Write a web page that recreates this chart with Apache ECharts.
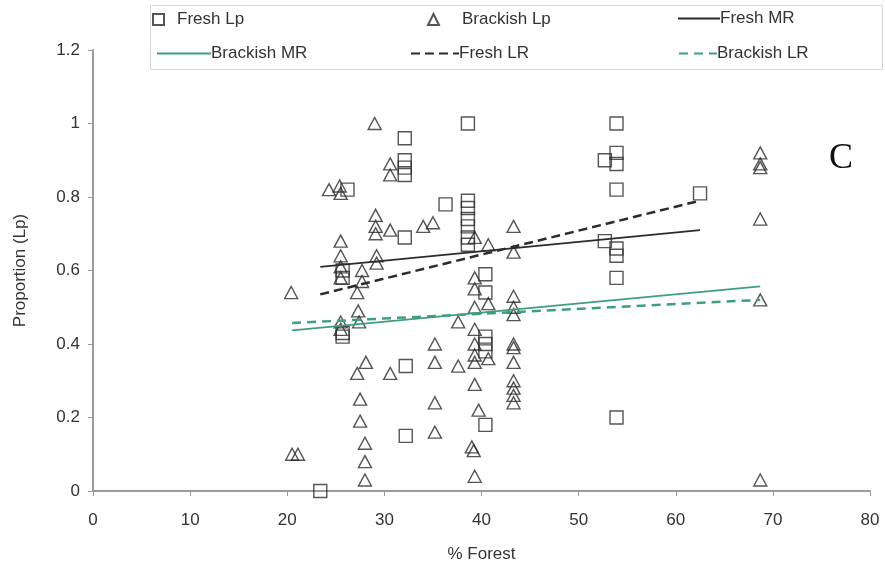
<!DOCTYPE html>
<html>
<head>
<meta charset="utf-8">
<script src="https://cdn.jsdelivr.net/npm/echarts@6/dist/echarts.min.js"></script>
<style>
  html, body { margin: 0; padding: 0; background: #fff; }
  #chart { width: 885px; height: 575px; }
</style>
</head>
<body>
<div id="chart"></div>
<script>
// Proportion (Lp) against % forest cover, freshwater vs brackish sites
const freshLp = [
  [23.4, 0.00], [26.2, 0.82], [25.7, 0.60], [25.7, 0.58], [25.7, 0.43], [25.7, 0.42],
  [32.1, 0.96], [32.1, 0.90], [32.1, 0.88], [32.1, 0.86], [32.1, 0.69], [32.2, 0.34],
  [32.2, 0.15], [36.3, 0.78], [38.6, 1.00], [38.6, 0.79], [38.6, 0.77], [38.6, 0.74],
  [38.6, 0.72], [38.6, 0.69], [38.6, 0.67], [40.4, 0.59], [40.4, 0.54], [40.4, 0.42],
  [40.4, 0.40], [40.4, 0.38], [40.4, 0.18], [52.7, 0.90], [53.9, 0.92], [53.9, 0.89],
  [53.9, 1.00], [53.9, 0.82], [52.7, 0.68], [53.9, 0.66], [53.9, 0.64], [53.9, 0.58],
  [53.9, 0.20], [62.5, 0.81]
];
const brackishLp = [
  [20.4, 0.54], [20.5, 0.10], [21.1, 0.10], [24.3, 0.82], [25.4, 0.83], [25.5, 0.81],
  [25.5, 0.68], [25.5, 0.64], [25.5, 0.61], [25.5, 0.58], [25.5, 0.46], [25.5, 0.44],
  [27.2, 0.54], [27.7, 0.60], [27.7, 0.57], [27.3, 0.49], [27.4, 0.46], [28.1, 0.35],
  [27.2, 0.32], [27.5, 0.25], [27.5, 0.19], [28.0, 0.13], [28.0, 0.08], [28.0, 0.03],
  [29.0, 1.00], [29.1, 0.75], [29.1, 0.72], [29.1, 0.70], [29.2, 0.64], [29.2, 0.62],
  [30.6, 0.89], [30.6, 0.86], [30.6, 0.71], [30.6, 0.32], [34.0, 0.72], [35.0, 0.73],
  [35.2, 0.40], [35.2, 0.35], [35.2, 0.24], [35.2, 0.16], [37.6, 0.46], [37.6, 0.34],
  [39.3, 0.69], [40.7, 0.67], [39.3, 0.58], [39.3, 0.55], [39.3, 0.50], [40.7, 0.51],
  [39.3, 0.44], [39.3, 0.40], [39.3, 0.37], [40.7, 0.36], [39.3, 0.35], [39.3, 0.29],
  [39.7, 0.22], [39.0, 0.12], [39.2, 0.11], [39.3, 0.04],
  [43.3, 0.72], [43.3, 0.65], [43.3, 0.53], [43.3, 0.50], [43.3, 0.48], [43.3, 0.40],
  [43.3, 0.39], [43.3, 0.35], [43.3, 0.30], [43.3, 0.28], [43.3, 0.26], [43.3, 0.24],
  [68.7, 0.92], [68.7, 0.89], [68.7, 0.88], [68.7, 0.74], [68.7, 0.52], [68.7, 0.03]
];
// Fitted lines: endpoints over each group's range of % forest
const freshMR = [[23.4, 0.61], [62.5, 0.71]];
const brackishMR = [[20.5, 0.437], [68.7, 0.557]];
const freshLR = [[23.4, 0.535], [62.5, 0.79]];
const brackishLR = [[20.5, 0.457], [68.7, 0.52]];

const xTicks = [0, 10, 20, 30, 40, 50, 60, 70, 80];
const yTicks = [0, 0.2, 0.4, 0.6, 0.8, 1, 1.2];

const GREEN = '#3f9e7f';
const INK = '#2b2b2b';
const AXIS = '#9a9a9a';
const TXT = '#333';
const FONT = '"Liberation Sans", Arial, sans-serif';

const chart = echarts.init(document.getElementById('chart'), null, { renderer: 'canvas' });

// One legend block per entry so each sits in its own column of the key box
function legendAt(name, left, top, w, h, gap, hideSymbol) {
  const lg = {
    data: [name], left: left, top: top, orient: 'horizontal',
    padding: 0, itemWidth: w, itemHeight: h, selectedMode: false,
    textStyle: { fontFamily: FONT, fontSize: 17, color: TXT, padding: [0, 0, 0, gap || 0] }
  };
  if (hideSymbol) lg.itemStyle = { opacity: 0 };
  return lg;
}

const option = {
  animation: false,
  backgroundColor: '#fff',
  grid: { left: 93, right: 15, top: 50, bottom: 84, containLabel: false },
  legend: [
    legendAt('Fresh Lp', 152, 11, 11, 11, 8),
    legendAt('Brackish Lp', 427, 11, 11, 11, 18),
    legendAt('Fresh MR', 677, 10, 42, 14, -5, true),
    legendAt('Brackish MR', 156, 45, 54, 14, -5, true),
    legendAt('Fresh LR', 410, 45, 48, 14, -5, true),
    legendAt('Brackish LR', 678, 45, 38, 14, -5, true)
  ],
  xAxis: {
    type: 'value', min: xTicks[0], max: xTicks[xTicks.length - 1], interval: 10,
    name: '% Forest', nameLocation: 'middle', nameGap: 55,
    nameTextStyle: { fontFamily: FONT, fontSize: 17, color: TXT },
    axisLine: { lineStyle: { color: AXIS, width: 2 } },
    axisTick: { show: true, length: 5, lineStyle: { color: AXIS, width: 1 } },
    axisLabel: { fontFamily: FONT, fontSize: 17, color: TXT, margin: 21 },
    splitLine: { show: false }
  },
  yAxis: {
    type: 'value', min: yTicks[0], max: yTicks[yTicks.length - 1], interval: 0.2,
    name: 'Proportion (Lp)', nameLocation: 'middle', nameGap: 64,
    nameTextStyle: { fontFamily: FONT, fontSize: 17, color: TXT },
    axisLine: { show: true, lineStyle: { color: AXIS, width: 2 } },
    axisTick: { show: true, length: 5, lineStyle: { color: AXIS, width: 1 } },
    axisLabel: { fontFamily: FONT, fontSize: 17, color: TXT, margin: 13 },
    splitLine: { show: false }
  },
  graphic: [
    {
      type: 'rect', left: 148, top: 3, z: -1,
      shape: { width: 732, height: 64 },
      style: { fill: 'none', stroke: '#d6d6d6', lineWidth: 1 }
    },
    {
      type: 'text', left: 829, top: 141,
      style: { text: 'C', font: '36px "Liberation Serif", "Times New Roman", serif', fill: '#111' }
    }
  ],
  series: [
    {
      name: 'Fresh Lp', type: 'scatter', data: freshLp, symbol: 'rect', symbolSize: 13,
      itemStyle: { color: 'rgba(255,255,255,0)', borderColor: INK, borderWidth: 1.4 }, z: 3
    },
    {
      name: 'Brackish Lp', type: 'scatter', data: brackishLp, symbol: 'triangle', symbolSize: [13, 12],
      itemStyle: { color: 'rgba(255,255,255,0)', borderColor: INK, borderWidth: 1.4 }, z: 3
    },
    {
      name: 'Fresh MR', type: 'line', data: freshMR, symbol: 'none',
      lineStyle: { color: INK, width: 1.8 }, itemStyle: { color: INK }, z: 4
    },
    {
      name: 'Brackish MR', type: 'line', data: brackishMR, symbol: 'none',
      lineStyle: { color: GREEN, width: 1.8 }, itemStyle: { color: GREEN }, z: 4
    },
    {
      name: 'Fresh LR', type: 'line', data: freshLR, symbol: 'none',
      lineStyle: { color: INK, width: 2.5, type: [9, 5] }, itemStyle: { color: INK }, z: 4
    },
    {
      name: 'Brackish LR', type: 'line', data: brackishLR, symbol: 'none',
      lineStyle: { color: GREEN, width: 2.5, type: [9, 6] }, itemStyle: { color: GREEN }, z: 4
    }
  ]
};

chart.setOption(option);
</script>
</body>
</html>
